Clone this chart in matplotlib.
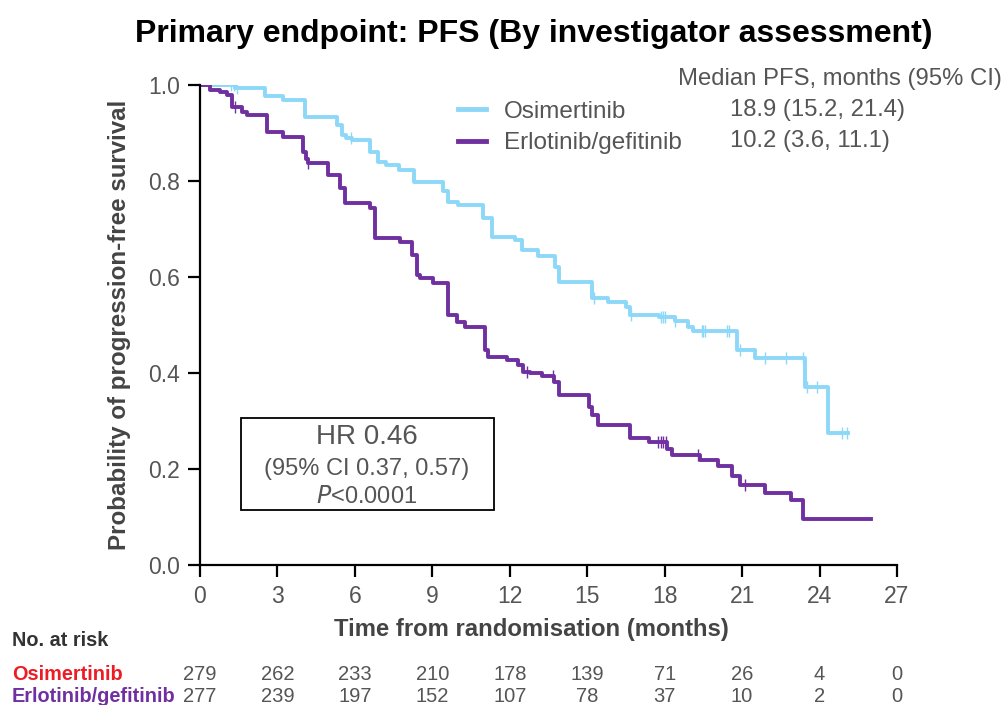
import numpy as np
import matplotlib.pyplot as plt
import matplotlib.transforms as mtrans
from matplotlib.lines import Line2D

plt.rcParams['font.family'] = ['Liberation Sans', 'DejaVu Sans']

# Kaplan-Meier step data
osi_t = [0, 1.36, 2.52, 3.2, 4.07, 5.3, 5.5, 5.65, 5.9, 6.6, 6.9, 7.2, 7.7, 8.3,
         9.41, 9.6, 10.0, 10.96, 11.3, 12.2, 12.48, 13.1, 13.75, 13.9, 15.2, 15.8,
         16.5, 16.66, 17.8, 18.4, 18.9, 19.1, 20.8, 21.5, 23.44, 24.33, 25.1]
osi_s = [1.0, 0.994, 0.977, 0.969, 0.933, 0.917, 0.896, 0.89, 0.885, 0.86, 0.84,
         0.833, 0.823, 0.798, 0.78, 0.756, 0.75, 0.723, 0.683, 0.677, 0.656, 0.644,
         0.621, 0.59, 0.556, 0.548, 0.5375, 0.521, 0.517, 0.508, 0.495, 0.4875,
         0.448, 0.431, 0.371, 0.275, 0.275]
osi_cens = [1.2, 1.3, 1.45, 5.85, 15.25, 16.7, 17.86, 17.93, 18.0, 18.4, 19.45,
            19.5, 19.57, 20.4, 20.5, 20.9, 21.9, 22.7, 23.36, 23.5, 23.9, 24.87, 25.07]

erl_t = [0, 0.39, 0.77, 1.05, 1.24, 1.63, 1.82, 2.6, 3.2, 4.0, 4.1, 4.18, 4.96,
         5.42, 5.6, 6.59, 6.78, 7.75, 8.2, 8.4, 8.52, 9.03, 9.6, 9.96, 10.27, 11.04,
         11.16, 11.9, 12.3, 12.5, 12.8, 13.25, 13.7, 13.9, 15.07, 15.2, 15.4, 16.66,
         17.4, 18.1, 18.3, 19.37, 20.07, 20.6, 20.9, 21.9, 22.9, 23.36, 26.0]
erl_s = [1.0, 0.99, 0.985, 0.979, 0.954, 0.944, 0.9375, 0.902, 0.892, 0.86, 0.845,
         0.8375, 0.8125, 0.785, 0.754, 0.744, 0.681, 0.673, 0.646, 0.604, 0.598,
         0.5875, 0.521, 0.506, 0.496, 0.448, 0.433, 0.427, 0.417, 0.402, 0.4, 0.394,
         0.381, 0.354, 0.329, 0.3125, 0.292, 0.265, 0.256, 0.242, 0.229, 0.219,
         0.206, 0.185, 0.167, 0.15, 0.135, 0.096, 0.096]
erl_cens = [1.36, 4.18, 12.67, 13.68, 17.75, 17.85, 17.95, 18.05, 19.3, 21.1]

xticks = [0, 3, 6, 9, 12, 15, 18, 21, 24, 27]
osi_risk = [279, 262, 233, 210, 178, 139, 71, 26, 4, 0]
erl_risk = [277, 239, 197, 152, 107, 78, 37, 10, 2, 0]

blue = '#8DD8F8'
purple = '#7030A0'
grey = '#555555'


def surv_at(t, s, x):
    i = np.searchsorted(t, x, side='right') - 1
    return np.asarray(s)[i]


fig = plt.figure(figsize=(10.04, 7.05), dpi=100)
ax = fig.add_axes([0.1992, 0.1986, 0.6942, 0.6808])

ax.step(osi_t, osi_s, where='post', color=blue, lw=2.8)
ax.step(erl_t, erl_s, where='post', color=purple, lw=2.8)
ax.plot(osi_cens, surv_at(osi_t, osi_s, osi_cens), ls='none', marker='|',
        ms=9, mew=1, color=blue)
ax.plot(erl_cens, surv_at(erl_t, erl_s, erl_cens), ls='none', marker='|',
        ms=9, mew=1, color=purple)

ax.set_xlim(0, 27)
ax.set_ylim(0, 1.0)
ax.set_xticks(xticks)
ax.set_yticks([0, 0.2, 0.4, 0.6, 0.8, 1.0])
ax.set_yticklabels(['0.0', '0.2', '0.4', '0.6', '0.8', '1.0'])
ax.spines['top'].set_visible(False)
ax.spines['right'].set_visible(False)
for sp in ('left', 'bottom'):
    ax.spines[sp].set_linewidth(1.6)
ax.tick_params(direction='out', length=8.5, width=1.6, labelsize=16.5,
               labelcolor=grey, pad=6)

ax.set_xlabel('Time from randomisation (months)', fontsize=17.2,
              fontweight='bold', color='#444444', labelpad=9)
ax.xaxis.set_label_coords(0.476, -0.11)
ax.set_ylabel('Probability of progression-free survival', fontsize=17.4,
              fontweight='bold', color='#444444', labelpad=12)
fig.text(0.532, 0.952, 'Primary endpoint: PFS (By investigator assessment)',
         ha='center', va='center', fontsize=23, fontweight='bold')

# legend + medians
handles = [Line2D([], [], color=blue, lw=3.5), Line2D([], [], color=purple, lw=3.5)]
fig.legend(handles, ['Osimertinib', 'Erlotinib/gefitinib'], loc='upper left',
           bbox_to_anchor=(0.434, 0.888), frameon=False, fontsize=17.5,
           handlelength=1.15, handletextpad=0.74, labelspacing=0.38,
           labelcolor=grey)
fig.text(678 / 1004, 1 - 79 / 705, 'Median PFS, months (95% CI)', fontsize=17.2,
         color=grey, va='center')
fig.text(730 / 1004, 1 - 110 / 705, '18.9 (15.2, 21.4)', fontsize=17.2,
         color=grey, va='center')
fig.text(730 / 1004, 1 - 141 / 705, '10.2 (3.6, 11.1)', fontsize=17.2,
         color=grey, va='center')

# HR box
box = plt.Rectangle((241 / 1004, 1 - 510 / 705), 253 / 1004, 92 / 705,
                    transform=fig.transFigure, fill=False, lw=1.3,
                    edgecolor='black')
fig.patches.append(box)
fig.text(367 / 1004, 1 - 437 / 705, 'HR 0.46', ha='center', va='center',
         fontsize=20, color=grey)
fig.text(367 / 1004, 1 - 469 / 705, '(95% CI 0.37, 0.57)', ha='center',
         va='center', fontsize=17, color=grey)
fig.text(367 / 1004, 1 - 497 / 705, r'$\it{P}$<0.0001', ha='center',
         va='center', fontsize=17, color=grey)

# number at risk table
fig.text(12 / 1004, 1 - 640 / 705, 'No. at risk', fontsize=14.3,
         fontweight='bold', color='#333333', va='center')
fig.text(12 / 1004, 1 - 674 / 705, 'Osimertinib', fontsize=14.3,
         fontweight='bold', color='#ED1C24', va='center')
fig.text(12 / 1004, 1 - 696 / 705, 'Erlotinib/gefitinib', fontsize=14.3,
         fontweight='bold', color=purple, va='center')
blend = mtrans.blended_transform_factory(ax.transData, fig.transFigure)
for x, a, b in zip(xticks, osi_risk, erl_risk):
    fig.text(x, 1 - 674 / 705, str(a), transform=blend, ha='center',
             va='center', fontsize=14.5, color=grey)
    fig.text(x, 1 - 696 / 705, str(b), transform=blend, ha='center',
             va='center', fontsize=14.5, color=grey)

fig.savefig('out.png', dpi=100)
